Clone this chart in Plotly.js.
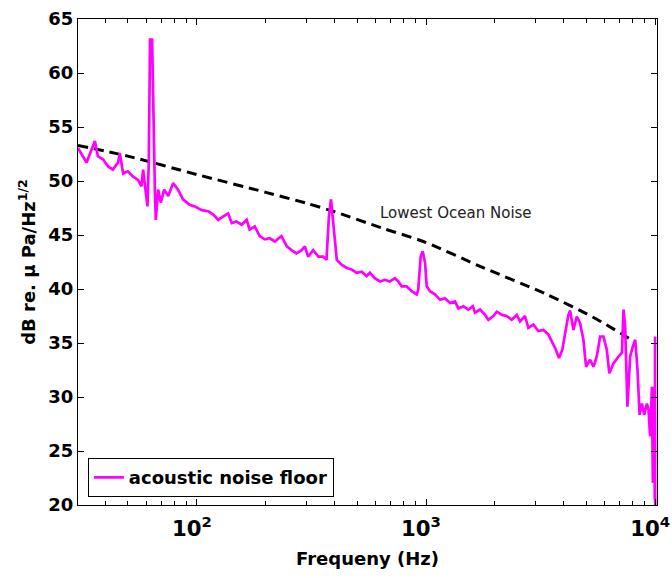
<!DOCTYPE html>
<html>
<head>
<meta charset="utf-8">
<script src="https://cdn.plot.ly/plotly-3.0.1.min.js"></script>
<style>html,body{margin:0;padding:0;background:#fff;}#chart{width:672px;height:578px;}</style>
</head>
<body>
<div id="chart"></div>
<script>
// Acoustic noise floor (Hz, dB re. uPa/Hz^1/2)
const noiseFreq = [30.3,33,35.9,37,39,41,43,45.3,46.1,47.7,50,52.7,55.4,57.3,58.3,59.7,60.9,61.7,62.5,63.8,64.6,65.6,66.2,67.8,69.6,72,75,78.8,82.8,87,93,98,
105,112,118,124,130,137,142,149,157,165,170,179,188,198,208,219,234,247,259,272,287,296,306,322,339,356,368,377,385,392,401,408,
428,451,474,498,524,551,569,598,630,662,696,732,757,783,823,866,911,925,948,968,991,1007,1041,1094,1151,1210,1273,1339,1384,1456,1531,
1600,1637,1722,1811,1872,1968,2037,2142,2251,2367,2489,2572,2704,2797,2941,3092,3251,3419,3538,3683,3807,3938,4047,4183,4256,
4397,4550,4700,4862,4996,5200,5383,5562,5754,5943,6150,6310,6577,6918,7161,7278,7396,7568,7780,7998,8185,8375,8551,8750,8954,9204,9354,9506,9683,9772,9908,9960,9990,10000];
const noiseDb = [53.06,51.7,53.7,52.3,52.0,51.35,51.05,51.7,52.6,50.7,50.9,50.4,50.1,49.5,51.05,49.2,47.65,51.7,63.1,63.1,54.75,49.2,46.4,49.2,48.0,49.2,48.6,49.8,49.2,48.3,47.8,47.65,
47.3,47.2,46.9,46.4,46.7,47.0,46.1,46.25,45.95,46.4,45.5,45.8,44.9,44.6,44.7,44.4,44.9,43.95,43.6,43.3,43.6,43.95,43.0,43.6,43.0,43.0,42.7,46.7,48.3,46.5,43.95,42.7,
42.25,41.95,41.8,41.5,41.6,41.2,41.5,41.0,40.7,40.85,40.7,41.0,40.7,40.25,40.25,39.8,39.5,39.95,43.0,43.5,42.4,40.25,39.8,39.5,39.0,39.15,38.7,38.85,38.2,38.4,38.1,
38.4,37.8,38.1,37.6,37.15,37.5,37.9,37.6,37.5,37.15,37.6,37.0,37.5,36.4,36.7,36.1,36.2,35.8,35.15,34.4,33.6,34.4,35.9,37.6,38.0,
36.2,37.45,36.85,35.3,32.8,33.45,32.8,33.75,35.6,35.6,34.4,32.2,33.1,33.75,34.1,38.1,36.55,29.1,33.75,34.7,35.3,32.5,28.35,29.4,28.35,29.4,28.8,26.35,30.95,22.05,30.95,20.5,35.6,20];

// Lowest ocean noise reference curve
const oceanFreq = [30.3,50,100,200,300,393,641,973,1722,3365,5560,8035,8180];
const oceanDb = [53.3,52.3,50.6,48.95,47.95,47.2,45.65,44.4,42.1,39.5,37.2,35.15,35.0];

// Axis ticks
const yTicks = [20,25,30,35,40,45,50,55,60,65];

const fam = 'DejaVu Sans, Verdana, sans-serif';

const traces = [
  {
    x: oceanFreq, y: oceanDb, type: 'scatter', mode: 'lines',
    line: {color: '#000', width: 3, dash: '10px,6px', shape: 'spline', smoothing: 0.8},
    showlegend: false, hoverinfo: 'skip'
  },
  {
    x: noiseFreq, y: noiseDb, type: 'scatter', mode: 'lines',
    name: '<b>acoustic noise floor</b>',
    line: {color: '#ff00ff', width: 2.7}
  }
];

const layout = {
  width: 672, height: 578,
  margin: {l: 78, r: 15, t: 19, b: 73},
  paper_bgcolor: '#fff', plot_bgcolor: '#fff',
  font: {family: fam, color: '#000'},
  xaxis: {
    type: 'log', range: [Math.log10(30.3), 4.008],
    dtick: 1, exponentformat: 'power',
    ticks: 'inside', ticklen: 6, tickcolor: '#000',
    minor: {ticks: 'inside', ticklen: 4, dtick: 'D1', tickcolor: '#000', showgrid: false},
    showline: true, linecolor: '#000', linewidth: 1, mirror: 'ticks',
    showgrid: false, zeroline: false,
    ticklabelstandoff: 5, ticklabelshift: -5, ticklabeloverflow: 'allow',
    tickfont: {family: fam, size: 17, color: '#000', weight: 'bold'},
    title: {text: '<b>Frequeny (Hz)</b>', font: {family: fam, size: 18, color: '#000'}, standoff: 12}
  },
  yaxis: {
    range: [20, 65], tickvals: yTicks,
    ticks: 'inside', ticklen: 6, tickcolor: '#000',
    showline: true, linecolor: '#000', linewidth: 1, mirror: 'ticks',
    showgrid: false, zeroline: false,
    ticklabeloverflow: 'allow',
    tickfont: {family: fam, size: 18, color: '#000', weight: 'bold'},
    title: {text: '<b>dB re. μ Pa/Hz<sup>1/2</sup></b>', font: {family: fam, size: 18, color: '#000'}, standoff: 8}
  },
  legend: {
    x: 0.017, y: 0.016, xanchor: 'left', yanchor: 'bottom',
    bgcolor: '#fff', bordercolor: '#000', borderwidth: 1,
    font: {family: fam, size: 18, color: '#000'}
  },
  annotations: [{
    x: Math.log10(1352), y: 47.07, xref: 'x', yref: 'y',
    text: 'Lowest Ocean Noise', showarrow: false,
    font: {family: fam, size: 15, color: '#222'}
  }]
};

Plotly.newPlot('chart', traces, layout, {displayModeBar: false, staticPlot: true});
</script>
</body>
</html>
